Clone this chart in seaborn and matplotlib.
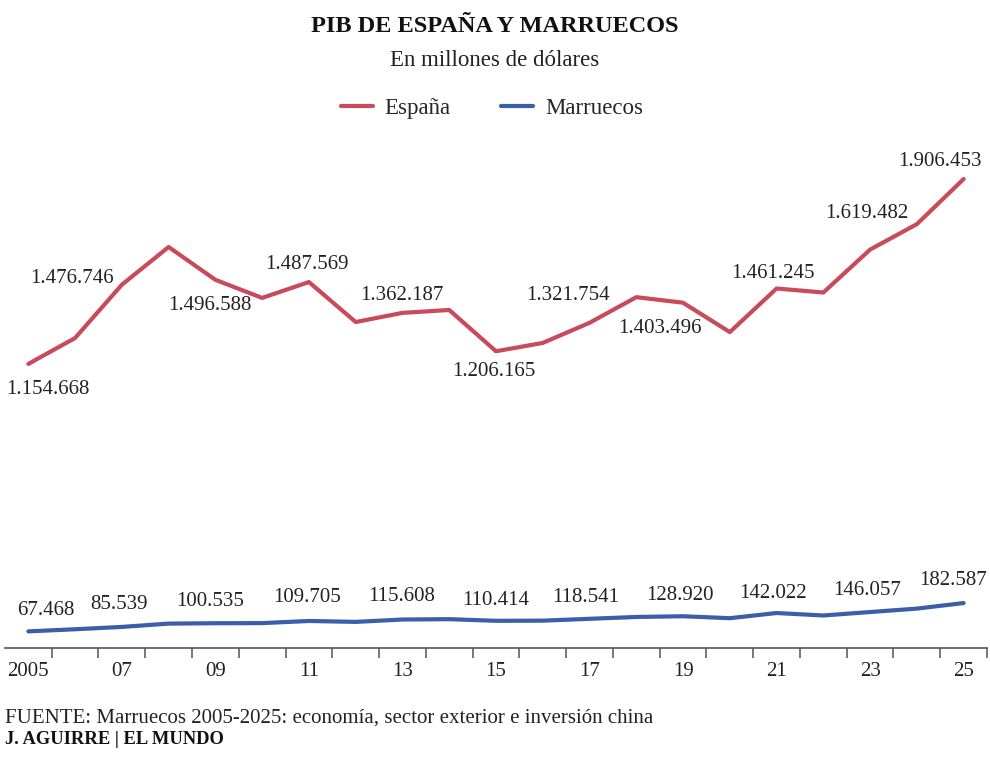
import numpy as np
import pandas as pd
import matplotlib
matplotlib.use("Agg")
import matplotlib.pyplot as plt
import seaborn as sns

# Data (millones de dólares)
years = list(range(2005, 2026))
espana = [1154668, 1260000, 1476746, 1630000, 1496588, 1423000, 1487569,
          1325000, 1362187, 1374000, 1206165, 1240000, 1321754, 1426000,
          1403496, 1284000, 1461245, 1445000, 1619482, 1723000, 1906453]
marruecos = [67468, 76000, 85539, 99000, 100535, 101000, 109705,
             106000, 115608, 117000, 110414, 111000, 118541, 126000,
             128920, 121000, 142022, 132000, 146057, 160000, 182587]
labeled_years = years[::2]
tick_labels = ["2005", "07", "09", "11", "13", "15", "17", "19", "21", "23", "25"]

RED = "#c94a5a"
BLUE = "#3a5ea8"
SERIF = ["Liberation Serif", "DejaVu Serif"]

# label offsets in pixels (dx, dy), one per labeled year
esp_offsets = [(20, -26), (-50, 6), (-6, -26), (-2, 18), (-1, 17), (-2, -20),
               (-22, 27), (-23, -26), (-4, 15), (-3, 36), (-24, 17)]
mar_offsets = [(17, 21), (-3, 22), (-5, 22), (-2, 23), (-1, 23), (0, 20),
               (-4, 21), (-3, 21), (-4, 20), (-3, 22), (-11, 23)]


def fmt(v):
    return f"{v:,}".replace(",", ".")


df = pd.DataFrame({
    "year": years * 2,
    "value": espana + marruecos,
    "pais": ["España"] * len(years) + ["Marruecos"] * len(years),
})

sns.set_style("white")
plt.rcParams["font.family"] = SERIF

fig = plt.figure(figsize=(9.9, 7.76), dpi=100)
ax = fig.add_axes([0.005, 0.165, 0.992, 0.634])

sns.lineplot(data=df, x="year", y="value", hue="pais",
             palette={"España": RED, "Marruecos": BLUE},
             linewidth=3, ax=ax, legend=False)

ax.set_xlim(2004.5, 2025.5)
ax.set_ylim(0, 2000000)
ax.set_xlabel("")
ax.set_ylabel("")
ax.set_yticks([])
for s in ["top", "right", "left"]:
    ax.spines[s].set_visible(False)
ax.spines["bottom"].set_color("#555555")
ax.spines["bottom"].set_linewidth(1.2)

ax.set_xticks(labeled_years)
ax.set_xticklabels(tick_labels, fontsize=15, color="#222222")
ax.tick_params(axis="x", which="major", length=0, pad=10, bottom=True)
# small ticks between years, none at the left end
ax.set_xticks(np.arange(2005.5, 2026, 1), minor=True)
ax.tick_params(axis="x", which="minor", length=7, width=1.1, color="#555555",
               bottom=True, direction="out")

for yr, off in zip(labeled_years, esp_offsets):
    v = espana[years.index(yr)]
    ax.annotate(fmt(v), (yr, v), xytext=off, textcoords="offset pixels",
                ha="center", va="center", fontsize=15, color="#222222")
for yr, off in zip(labeled_years, mar_offsets):
    v = marruecos[years.index(yr)]
    ax.annotate(fmt(v), (yr, v), xytext=off, textcoords="offset pixels",
                ha="center", va="center", fontsize=15, color="#222222")

# titles and legend
fig.text(0.5, 1 - 27 / 776, "PIB DE ESPAÑA Y MARRUECOS", ha="center", va="center",
         fontsize=17.5, fontweight="bold", color="#111111")
fig.text(0.5, 1 - 61 / 776, "En millones de dólares", ha="center", va="center",
         fontsize=16.5, color="#222222")

handles = [plt.Line2D([], [], color=RED, lw=3), plt.Line2D([], [], color=BLUE, lw=3)]
fig.legend(handles, ["España", "Marruecos"], loc="center", ncol=2,
           bbox_to_anchor=(0.497, 1 - 108 / 776), frameon=False, fontsize=16.5,
           handlelength=1.4, handletextpad=0.5, columnspacing=2.2)

fig.text(5 / 990, 1 - 718 / 776, "FUENTE: Marruecos 2005-2025: economía, sector exterior e inversión china",
         ha="left", va="center", fontsize=15, color="#222222")
fig.text(5 / 990, 1 - 739 / 776, "J. AGUIRRE | EL MUNDO", ha="left", va="center",
         fontsize=13.3, fontweight="bold", color="#111111")

fig.savefig("out.png", dpi=100)
